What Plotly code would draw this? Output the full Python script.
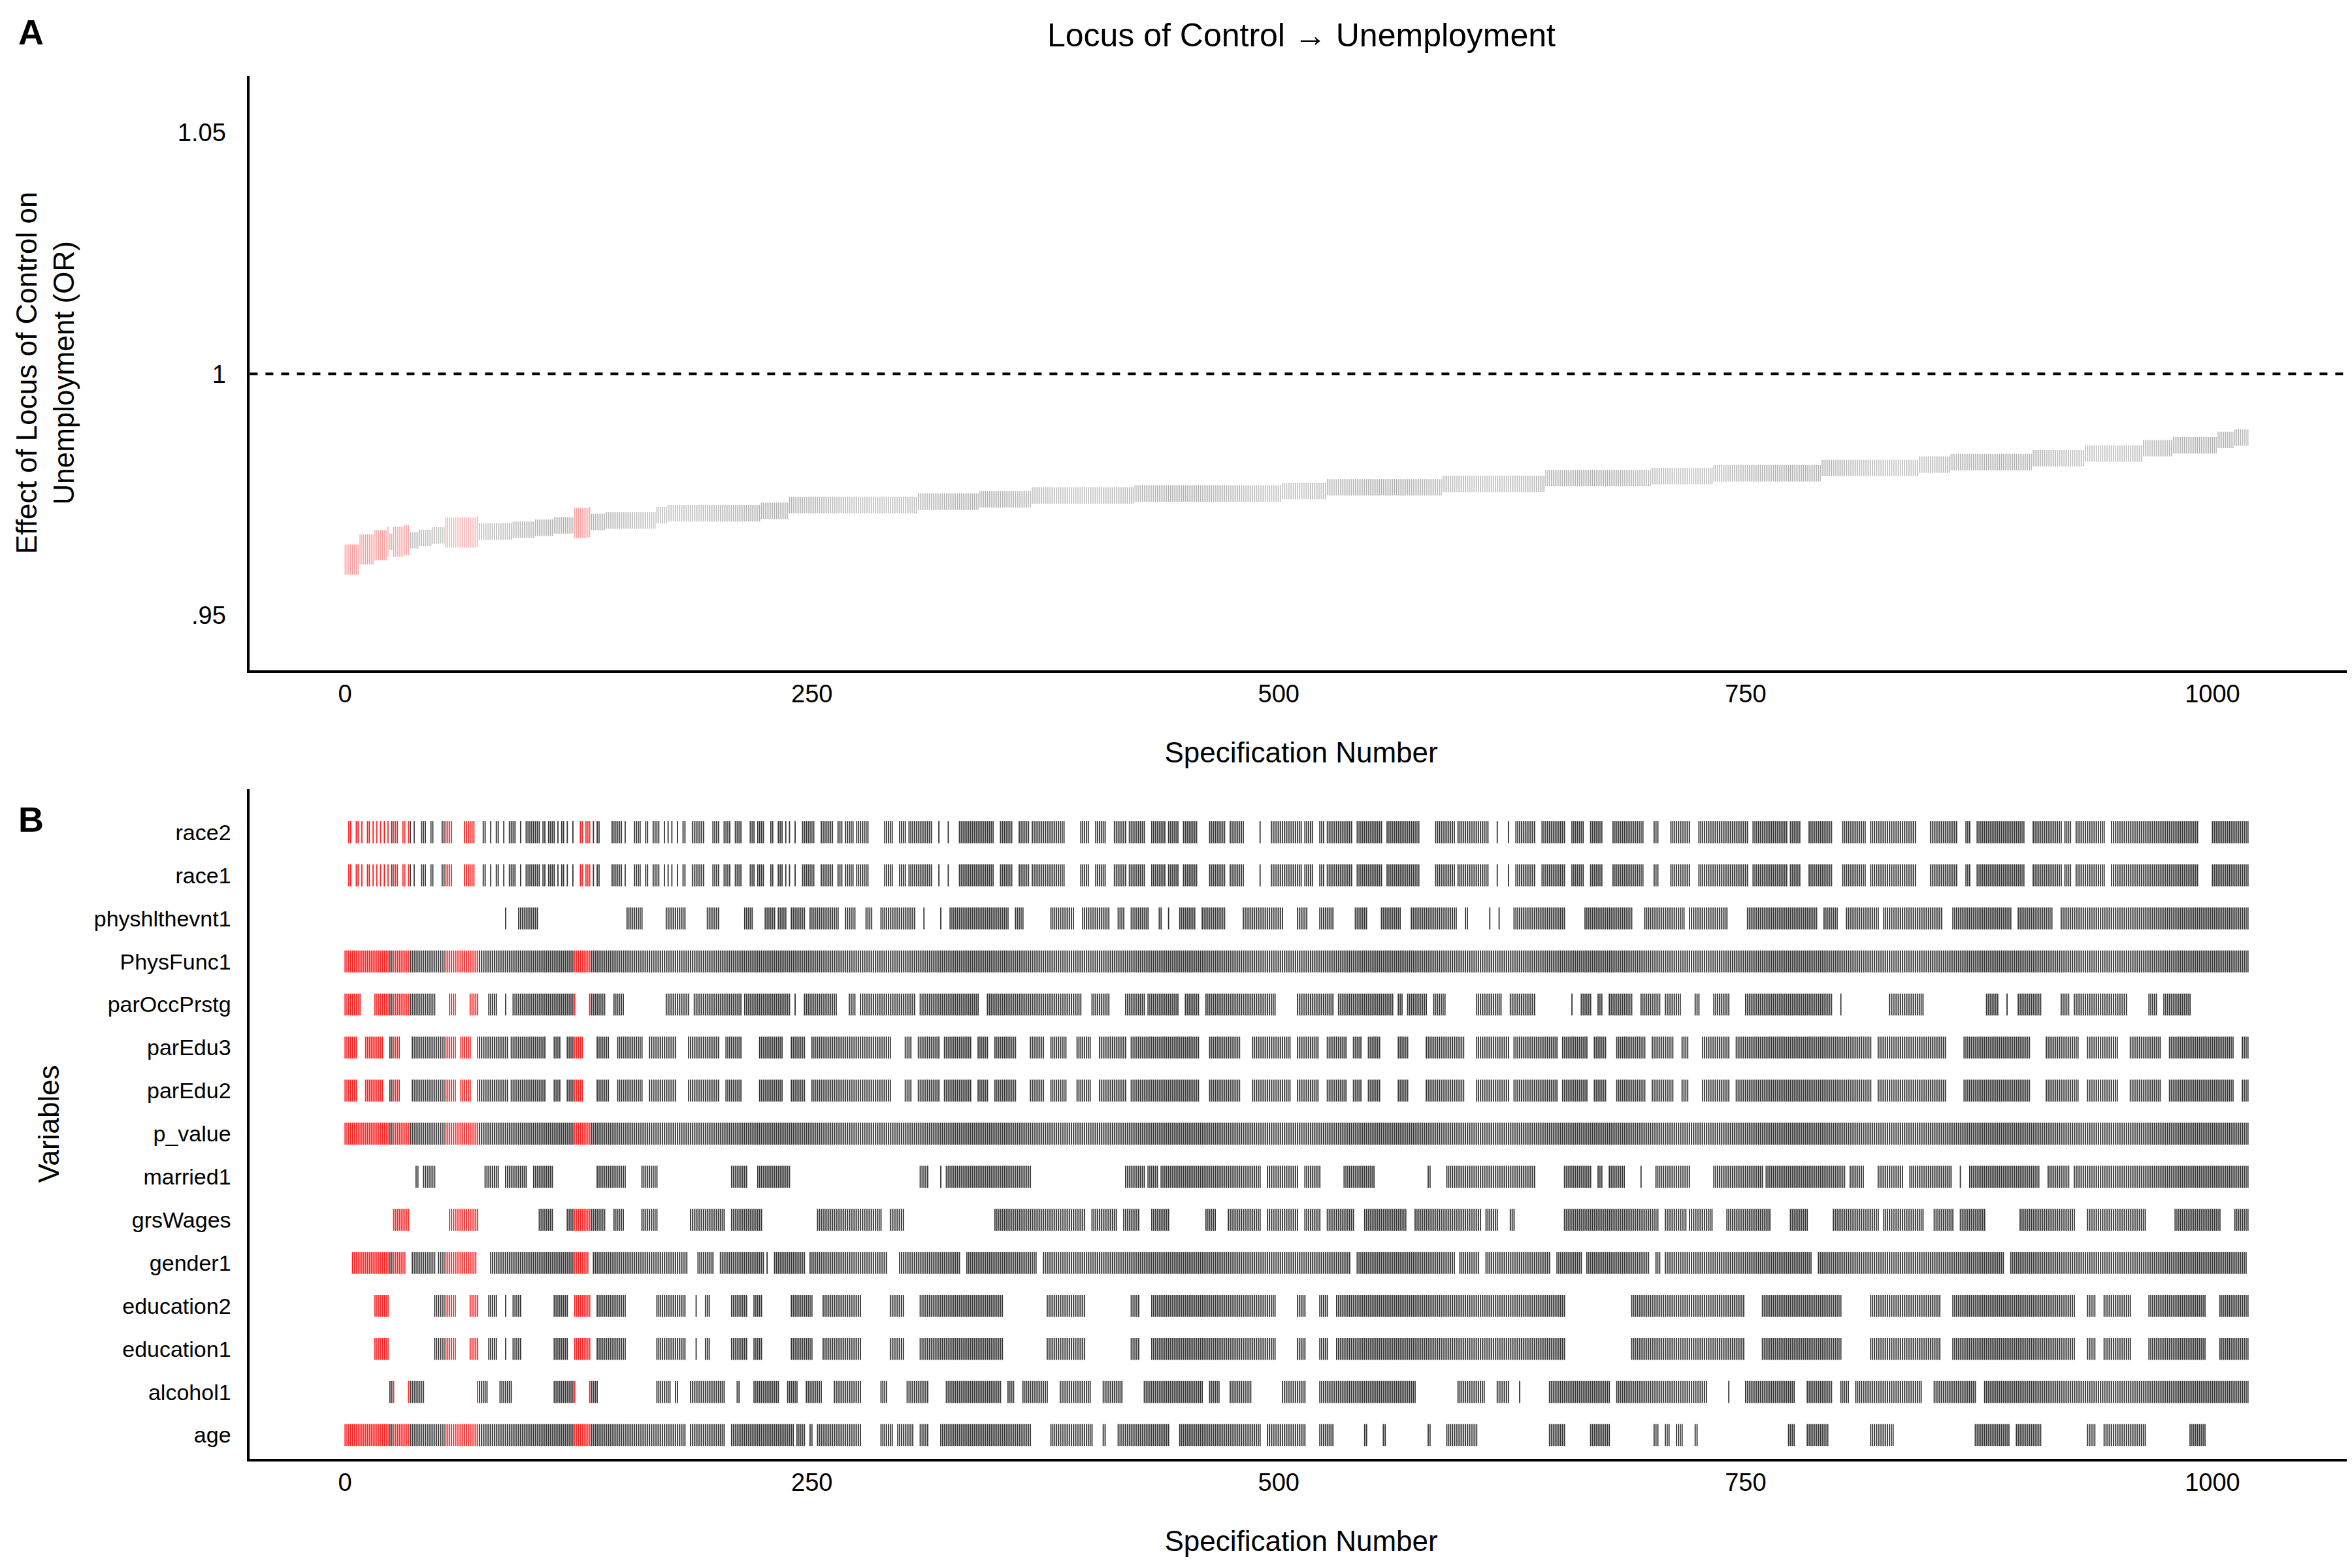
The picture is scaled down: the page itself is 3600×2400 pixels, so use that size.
import plotly.graph_objects as go

# number of specifications
n_specs = 1020

# specs whose effect is significant (drawn in red)
red_ranges = [(0, 23), (26, 34), (54, 71), (123, 131)]

# effect curve: spec where a plateau starts, and its OR value
curve_start = [0, 8, 16, 23, 32, 40, 47, 54, 71, 90, 102, 112, 123, 131, 140, 167, 173, 223, 238,
               307, 340, 368, 423, 502, 526, 588, 643, 700, 733, 791, 843, 860, 904, 932, 963, 979,
               1003, 1012]
curve_or = [0.9615, 0.9636, 0.9645, 0.9652, 0.9655, 0.9660, 0.9665, 0.9671, 0.9673, 0.9677, 0.9681,
            0.9686, 0.9691, 0.9693, 0.9696, 0.9707, 0.9711, 0.9716, 0.9728, 0.9735, 0.9740, 0.9748,
            0.9752, 0.9757, 0.9765, 0.9772, 0.9784, 0.9788, 0.9794, 0.9805, 0.9812, 0.9817, 0.9825,
            0.9835, 0.9846, 0.9852, 0.9863, 0.9868]

# rows of panel B, bottom to top
variables = ['age', 'alcohol1', 'education1', 'education2', 'gender1', 'grsWages', 'married1',
             'p_value', 'parEdu2', 'parEdu3', 'parOccPrstg', 'PhysFunc1', 'physhlthevnt1',
             'race1', 'race2']

race = [(2, 3), (6, 7), (9, 9), (12, 13), (15, 15), (17, 17), (19, 19), (21, 21), (23, 23), (25, 28),
        (31, 32), (34, 35), (37, 37), (41, 43), (46, 47), (52, 57), (64, 69), (74, 75), (78, 78),
        (81, 82), (85, 85), (88, 91), (94, 94), (97, 104), (106, 107), (109, 112), (114, 114),
        (116, 117), (119, 119), (122, 122), (126, 127), (129, 131), (133, 133), (135, 136),
        (143, 148), (150, 150), (155, 158), (161, 162), (165, 168), (171, 171), (173, 173),
        (175, 175), (178, 178), (181, 182), (186, 192), (197, 200), (203, 206), (209, 212),
        (217, 219), (221, 224), (228, 229), (232, 234), (236, 236), (238, 238), (241, 241),
        (245, 251), (255, 261), (264, 266), (268, 272), (274, 280), (289, 293), (297, 300),
        (302, 314), (318, 318), (323, 323), (329, 347), (351, 357), (361, 366), (368, 385),
        (394, 398), (402, 407), (412, 418), (420, 428), (432, 439), (441, 446), (449, 456),
        (463, 471), (474, 481), (490, 490), (496, 512), (514, 518), (522, 524), (526, 539),
        (542, 555), (558, 575), (584, 594), (596, 612), (617, 617), (623, 623), (627, 637),
        (641, 653), (657, 663), (667, 673), (679, 695), (701, 703), (710, 720), (725, 751),
        (754, 772), (774, 779), (784, 796), (802, 814), (817, 841), (849, 863), (868, 870),
        (874, 899), (904, 919), (921, 924), (927, 942), (946, 992), (1000, 1019)]

physhlthevnt1 = [(86, 86), (93, 103), (151, 159), (172, 182), (194, 200), (214, 218), (225, 230),
                 (232, 236), (239, 246), (249, 264), (268, 273), (279, 282), (287, 305), (310, 310),
                 (319, 319), (324, 355), (359, 363), (378, 390), (395, 409), (414, 417), (421, 430),
                 (436, 437), (441, 441), (447, 455), (459, 471), (481, 502), (510, 515), (522, 529),
                 (541, 547), (555, 565), (571, 595), (600, 601), (613, 613), (618, 618), (626, 653),
                 (664, 689), (696, 717), (720, 740), (751, 788), (792, 799), (804, 821), (824, 855),
                 (861, 892), (896, 914), (919, 1019)]

full = [(0, 1019)]

parOccPrstg = [(0, 8), (16, 48), (56, 59), (67, 71), (77, 81), (86, 86), (90, 123), (131, 139),
               (144, 149), (172, 184), (187, 212), (214, 238), (241, 241), (246, 263), (270, 273),
               (276, 305), (308, 339), (344, 394), (400, 409), (418, 428), (430, 446), (450, 457),
               (461, 498), (510, 529), (532, 561), (564, 566), (569, 579), (583, 589), (606, 619),
               (624, 637), (657, 657), (662, 667), (671, 673), (677, 689), (694, 704), (707, 715),
               (723, 725), (733, 741), (750, 796), (801, 801), (827, 845), (879, 885), (890, 890),
               (896, 908), (919, 923), (926, 954), (966, 970), (974, 988)]

parEdu = [(0, 6), (11, 20), (24, 29), (36, 59), (62, 67), (71, 87), (89, 107), (112, 115), (119, 127),
          (135, 141), (146, 159), (163, 177), (184, 200), (204, 212), (222, 234), (239, 246),
          (250, 292), (300, 303), (307, 318), (321, 335), (339, 344), (348, 359), (367, 374),
          (378, 386), (392, 399), (404, 418), (421, 457), (463, 479), (486, 506), (510, 521),
          (526, 536), (540, 544), (548, 554), (564, 569), (579, 599), (606, 623), (626, 649),
          (652, 665), (669, 675), (681, 696), (700, 711), (716, 719), (727, 741), (745, 817),
          (821, 857), (867, 902), (911, 928), (933, 949), (956, 972), (977, 1011), (1016, 1019)]

married1 = [(38, 39), (42, 48), (75, 82), (86, 97), (101, 111), (135, 150), (159, 167), (207, 215),
            (221, 238), (308, 312), (319, 319), (322, 367), (418, 428), (430, 435), (437, 456),
            (457, 468), (469, 490), (494, 510), (514, 522), (535, 551), (580, 581), (590, 637),
            (653, 667), (671, 673), (677, 685), (694, 694), (702, 720), (733, 759), (761, 772),
            (773, 803), (806, 813), (821, 834), (838, 860), (865, 865), (870, 907), (912, 923),
            (926, 1019)]

grsWages = [(26, 34), (56, 71), (104, 111), (119, 139), (144, 149), (159, 167), (185, 203), (207, 223),
            (253, 287), (292, 299), (348, 396), (400, 413), (417, 425), (432, 441), (461, 466),
            (473, 490), (494, 510), (514, 522), (526, 540), (546, 568), (573, 608), (611, 617),
            (624, 626), (653, 703), (707, 718), (720, 732), (740, 763), (774, 783), (797, 821),
            (824, 845), (851, 861), (865, 878), (897, 926), (933, 964), (980, 1004), (1012, 1019)]

gender1 = [(4, 32), (36, 43), (44, 48), (50, 70), (78, 130), (133, 183), (189, 197), (201, 224),
           (226, 226), (230, 246), (249, 290), (297, 329), (333, 370), (374, 538), (542, 594),
           (597, 607), (611, 645), (649, 662), (665, 698), (702, 704), (707, 785), (789, 888),
           (892, 1018)]

education = [(16, 23), (48, 59), (67, 71), (77, 81), (86, 86), (90, 94), (112, 119), (123, 131),
             (135, 150), (167, 182), (188, 188), (193, 195), (207, 215), (219, 223), (239, 250),
             (256, 276), (292, 299), (308, 352), (376, 396), (421, 425), (432, 498), (510, 514),
             (522, 526), (531, 653), (689, 749), (759, 801), (817, 854), (861, 926), (933, 937),
             (942, 956), (966, 996), (1004, 1019)]

alcohol1 = [(24, 26), (34, 42), (71, 76), (83, 89), (112, 123), (131, 135), (167, 174), (177, 178),
            (185, 203), (210, 211), (219, 232), (237, 242), (247, 255), (262, 276), (287, 290),
            (301, 312), (322, 351), (355, 358), (363, 376), (383, 399), (406, 416), (428, 459),
            (463, 468), (474, 485), (502, 514), (522, 573), (596, 610), (617, 623), (629, 629),
            (645, 677), (681, 729), (741, 741), (750, 776), (783, 796), (801, 805), (809, 844),
            (851, 873), (878, 1019)]

age = [(0, 182), (185, 203), (207, 240), (242, 246), (249, 250), (253, 276), (287, 293), (296, 304),
       (308, 312), (319, 367), (378, 400), (406, 407), (414, 441), (447, 490), (494, 514), (522, 529),
       (546, 547), (556, 557), (580, 581), (590, 606), (645, 653), (667, 677), (701, 703), (707, 709),
       (713, 716), (723, 724), (773, 776), (783, 794), (817, 829), (873, 891), (895, 908), (933, 937),
       (942, 964), (988, 996)]

row_segments = {
    'age': age, 'alcohol1': alcohol1, 'education1': education, 'education2': education,
    'gender1': gender1, 'grsWages': grsWages, 'married1': married1, 'p_value': full,
    'parEdu2': parEdu, 'parEdu3': parEdu, 'parOccPrstg': parOccPrstg, 'PhysFunc1': full,
    'physhlthevnt1': physhlthevnt1, 'race1': race, 'race2': race,
}

FONT = 'Liberation Sans, Arial, sans-serif'


def is_red(s):
    return any(a <= s <= b for a, b in red_ranges)


# step curve from the plateau readings
spec = list(range(n_specs))
effect = []
j = 0
for s in spec:
    while j + 1 < len(curve_start) and curve_start[j + 1] <= s:
        j += 1
    effect.append(curve_or[j])

fig = go.Figure()

gx = [s for s in spec if not is_red(s)]
rx = [s for s in spec if is_red(s)]
fig.add_trace(go.Scatter(x=gx, y=[effect[s] for s in gx], mode='markers', xaxis='x', yaxis='y',
                         marker=dict(symbol='line-ns', size=18, line=dict(width=1.3, color='rgba(120,120,120,0.6)')),
                         hoverinfo='skip', showlegend=False))
fig.add_trace(go.Scatter(x=rx, y=[effect[s] for s in rx], mode='markers', xaxis='x', yaxis='y',
                         marker=dict(symbol='line-ns', size=33, line=dict(width=1.3, color='rgba(255,70,70,0.55)')),
                         hoverinfo='skip', showlegend=False))

# panel B
for i, var in enumerate(variables):
    xs = []
    for a, b in row_segments[var]:
        xs.extend(range(a, b + 1))
    g = [s for s in xs if not is_red(s)]
    r = [s for s in xs if is_red(s)]
    fig.add_trace(go.Scatter(x=g, y=[i] * len(g), mode='markers', xaxis='x2', yaxis='y2',
                             marker=dict(symbol='line-ns', size=24, line=dict(width=1.8, color='#333333')),
                             hoverinfo='skip', showlegend=False))
    fig.add_trace(go.Scatter(x=r, y=[i] * len(r), mode='markers', xaxis='x2', yaxis='y2',
                             marker=dict(symbol='line-ns', size=24, line=dict(width=1.8, color='#ff2020')),
                             hoverinfo='skip', showlegend=False))

axis_common = dict(showgrid=False, zeroline=False, showline=True, linecolor='black', linewidth=4,
                   ticks='', tickfont=dict(family=FONT, size=38, color='black'))

fig.update_layout(
    width=3600, height=2400,
    plot_bgcolor='white', paper_bgcolor='white',
    margin=dict(l=0, r=0, t=0, b=0),
    font=dict(family=FONT, color='black'),
    title=dict(text='Locus of Control → Unemployment', x=0.5511, xanchor='center', y=0.981, yanchor='middle',
               font=dict(family=FONT, size=50, color='black')),
    xaxis=dict(axis_common, domain=[0.104, 0.998], anchor='y', range=[-51, 1075],
               tickvals=[0, 250, 500, 750, 1000],
               title=dict(text='Specification Number', font=dict(family=FONT, size=44), standoff=55)),
    yaxis=dict(axis_common, domain=[0.576, 0.955], anchor='x', range=[0.9386, 1.0618],
               tickvals=[0.95, 1.0, 1.05], ticktext=['.95', '1', '1.05'], ticklabelstandoff=25,
               title=dict(text='Effect of Locus of Control on<br>Unemployment (OR)',
                          font=dict(family=FONT, size=44), standoff=145)),
    xaxis2=dict(axis_common, domain=[0.104, 0.998], anchor='y2', range=[-51, 1075],
                tickvals=[0, 250, 500, 750, 1000],
                title=dict(text='Specification Number', font=dict(family=FONT, size=44), standoff=55)),
    yaxis2=dict(axis_common, domain=[0.073, 0.5], anchor='x2', range=[-0.55, 15.0],
                tickvals=list(range(len(variables))), ticktext=variables, ticklabelstandoff=18,
                tickfont=dict(family=FONT, size=34, color='black'),
                title=dict(text='Variables', font=dict(family=FONT, size=44), standoff=40)),
)

fig.add_shape(type='line', xref='x domain', yref='y', x0=0, x1=1, y0=1, y1=1,
              line=dict(color='black', width=4, dash='dash'))

fig.add_annotation(text='<b>A</b>', xref='paper', yref='paper', x=0.005, y=0.983, showarrow=False,
                   xanchor='left', yanchor='middle', font=dict(family=FONT, size=54, color='black'))
fig.add_annotation(text='<b>B</b>', xref='paper', yref='paper', x=0.005, y=0.481, showarrow=False,
                   xanchor='left', yanchor='middle', font=dict(family=FONT, size=54, color='black'))

fig.write_html('out.html')
